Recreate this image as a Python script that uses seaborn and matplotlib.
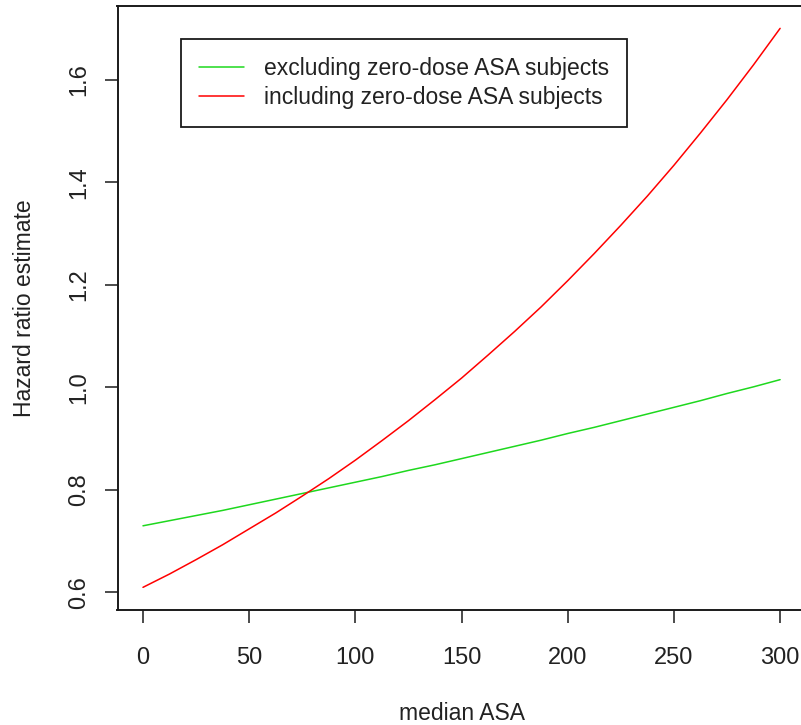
import matplotlib
matplotlib.use("Agg")
import matplotlib.pyplot as plt
import seaborn as sns
import pandas as pd

# Data
median_asa = [0, 12.5, 25, 37.5, 50, 62.5, 75, 87.5, 100, 112.5, 125, 137.5, 150,
              162.5, 175, 187.5, 200, 212.5, 225, 237.5, 250, 262.5, 275, 287.5, 300]
hr_excluding = [0.730, 0.740, 0.750, 0.760, 0.771, 0.782, 0.793, 0.804, 0.815, 0.826,
                0.838, 0.849, 0.861, 0.873, 0.885, 0.897, 0.910, 0.922, 0.935, 0.948,
                0.961, 0.974, 0.988, 1.001, 1.015]
hr_including = [0.610, 0.636, 0.664, 0.693, 0.724, 0.755, 0.788, 0.822, 0.858, 0.896,
                0.935, 0.976, 1.018, 1.063, 1.109, 1.157, 1.208, 1.261, 1.316, 1.373,
                1.433, 1.496, 1.561, 1.629, 1.700]
labels = ["excluding zero-dose ASA subjects", "including zero-dose ASA subjects"]
colors = ["#1ED81E", "#FF0000"]
x_ticks = [0, 50, 100, 150, 200, 250, 300]
y_ticks = [0.6, 0.8, 1.0, 1.2, 1.4, 1.6]

df = pd.DataFrame({
    "median ASA": median_asa * 2,
    "Hazard ratio estimate": hr_excluding + hr_including,
    "series": [labels[0]] * len(median_asa) + [labels[1]] * len(median_asa),
})

sns.set_style("white")
plt.rcParams["font.family"] = ["Liberation Sans", "DejaVu Sans"]

W, H = 801, 725
fig = plt.figure(figsize=(W / 100, H / 100), dpi=100)
left, right, top, bottom = 117.5, 805.6, 6.0, 609.7
ax = fig.add_axes([left / W, 1 - bottom / H, (right - left) / W, (bottom - top) / H])

sns.lineplot(data=df, x="median ASA", y="Hazard ratio estimate", hue="series",
             palette=dict(zip(labels, colors)), ax=ax, legend=False,
             linewidth=1.1, estimator=None, sort=True)

ax.set_xlim(-12, 312)
ax.set_ylim(0.5664, 1.7436)
ax.set_xticks(x_ticks)
ax.set_yticks(y_ticks)
ax.set_xticklabels([str(v) for v in x_ticks])
ax.set_yticklabels([f"{v:.1f}" for v in y_ticks], rotation=90, va="center")

for s in ax.spines.values():
    s.set_color("#1A1A1A")
    s.set_linewidth(1.4)
    s.set_visible(True)

ax.tick_params(axis="both", which="major", bottom=True, left=True, length=9.5, width=1.1,
               color="#1A1A1A", labelsize=17, labelcolor="#222222", direction="out")
ax.tick_params(axis="x", pad=17)
ax.tick_params(axis="y", pad=10)

ax.set_xlabel("median ASA", fontsize=16.5, color="#222222", labelpad=24)
ax.set_ylabel("Hazard ratio estimate", fontsize=16.5, color="#222222", labelpad=23.5)

handles = ax.get_lines()[:2]
leg = ax.legend(handles, labels, loc="upper left",
                bbox_to_anchor=(181 / W, 1 - 39 / H), bbox_transform=fig.transFigure,
                fontsize=16.5, frameon=True, fancybox=False, framealpha=1,
                edgecolor="#1A1A1A", borderpad=0.8, handlelength=1.95,
                handletextpad=0.85, labelspacing=0.25, borderaxespad=0)
leg.get_frame().set_linewidth(1.3)
for t in leg.get_texts():
    t.set_color("#222222")

fig.savefig("out.png", dpi=100)
